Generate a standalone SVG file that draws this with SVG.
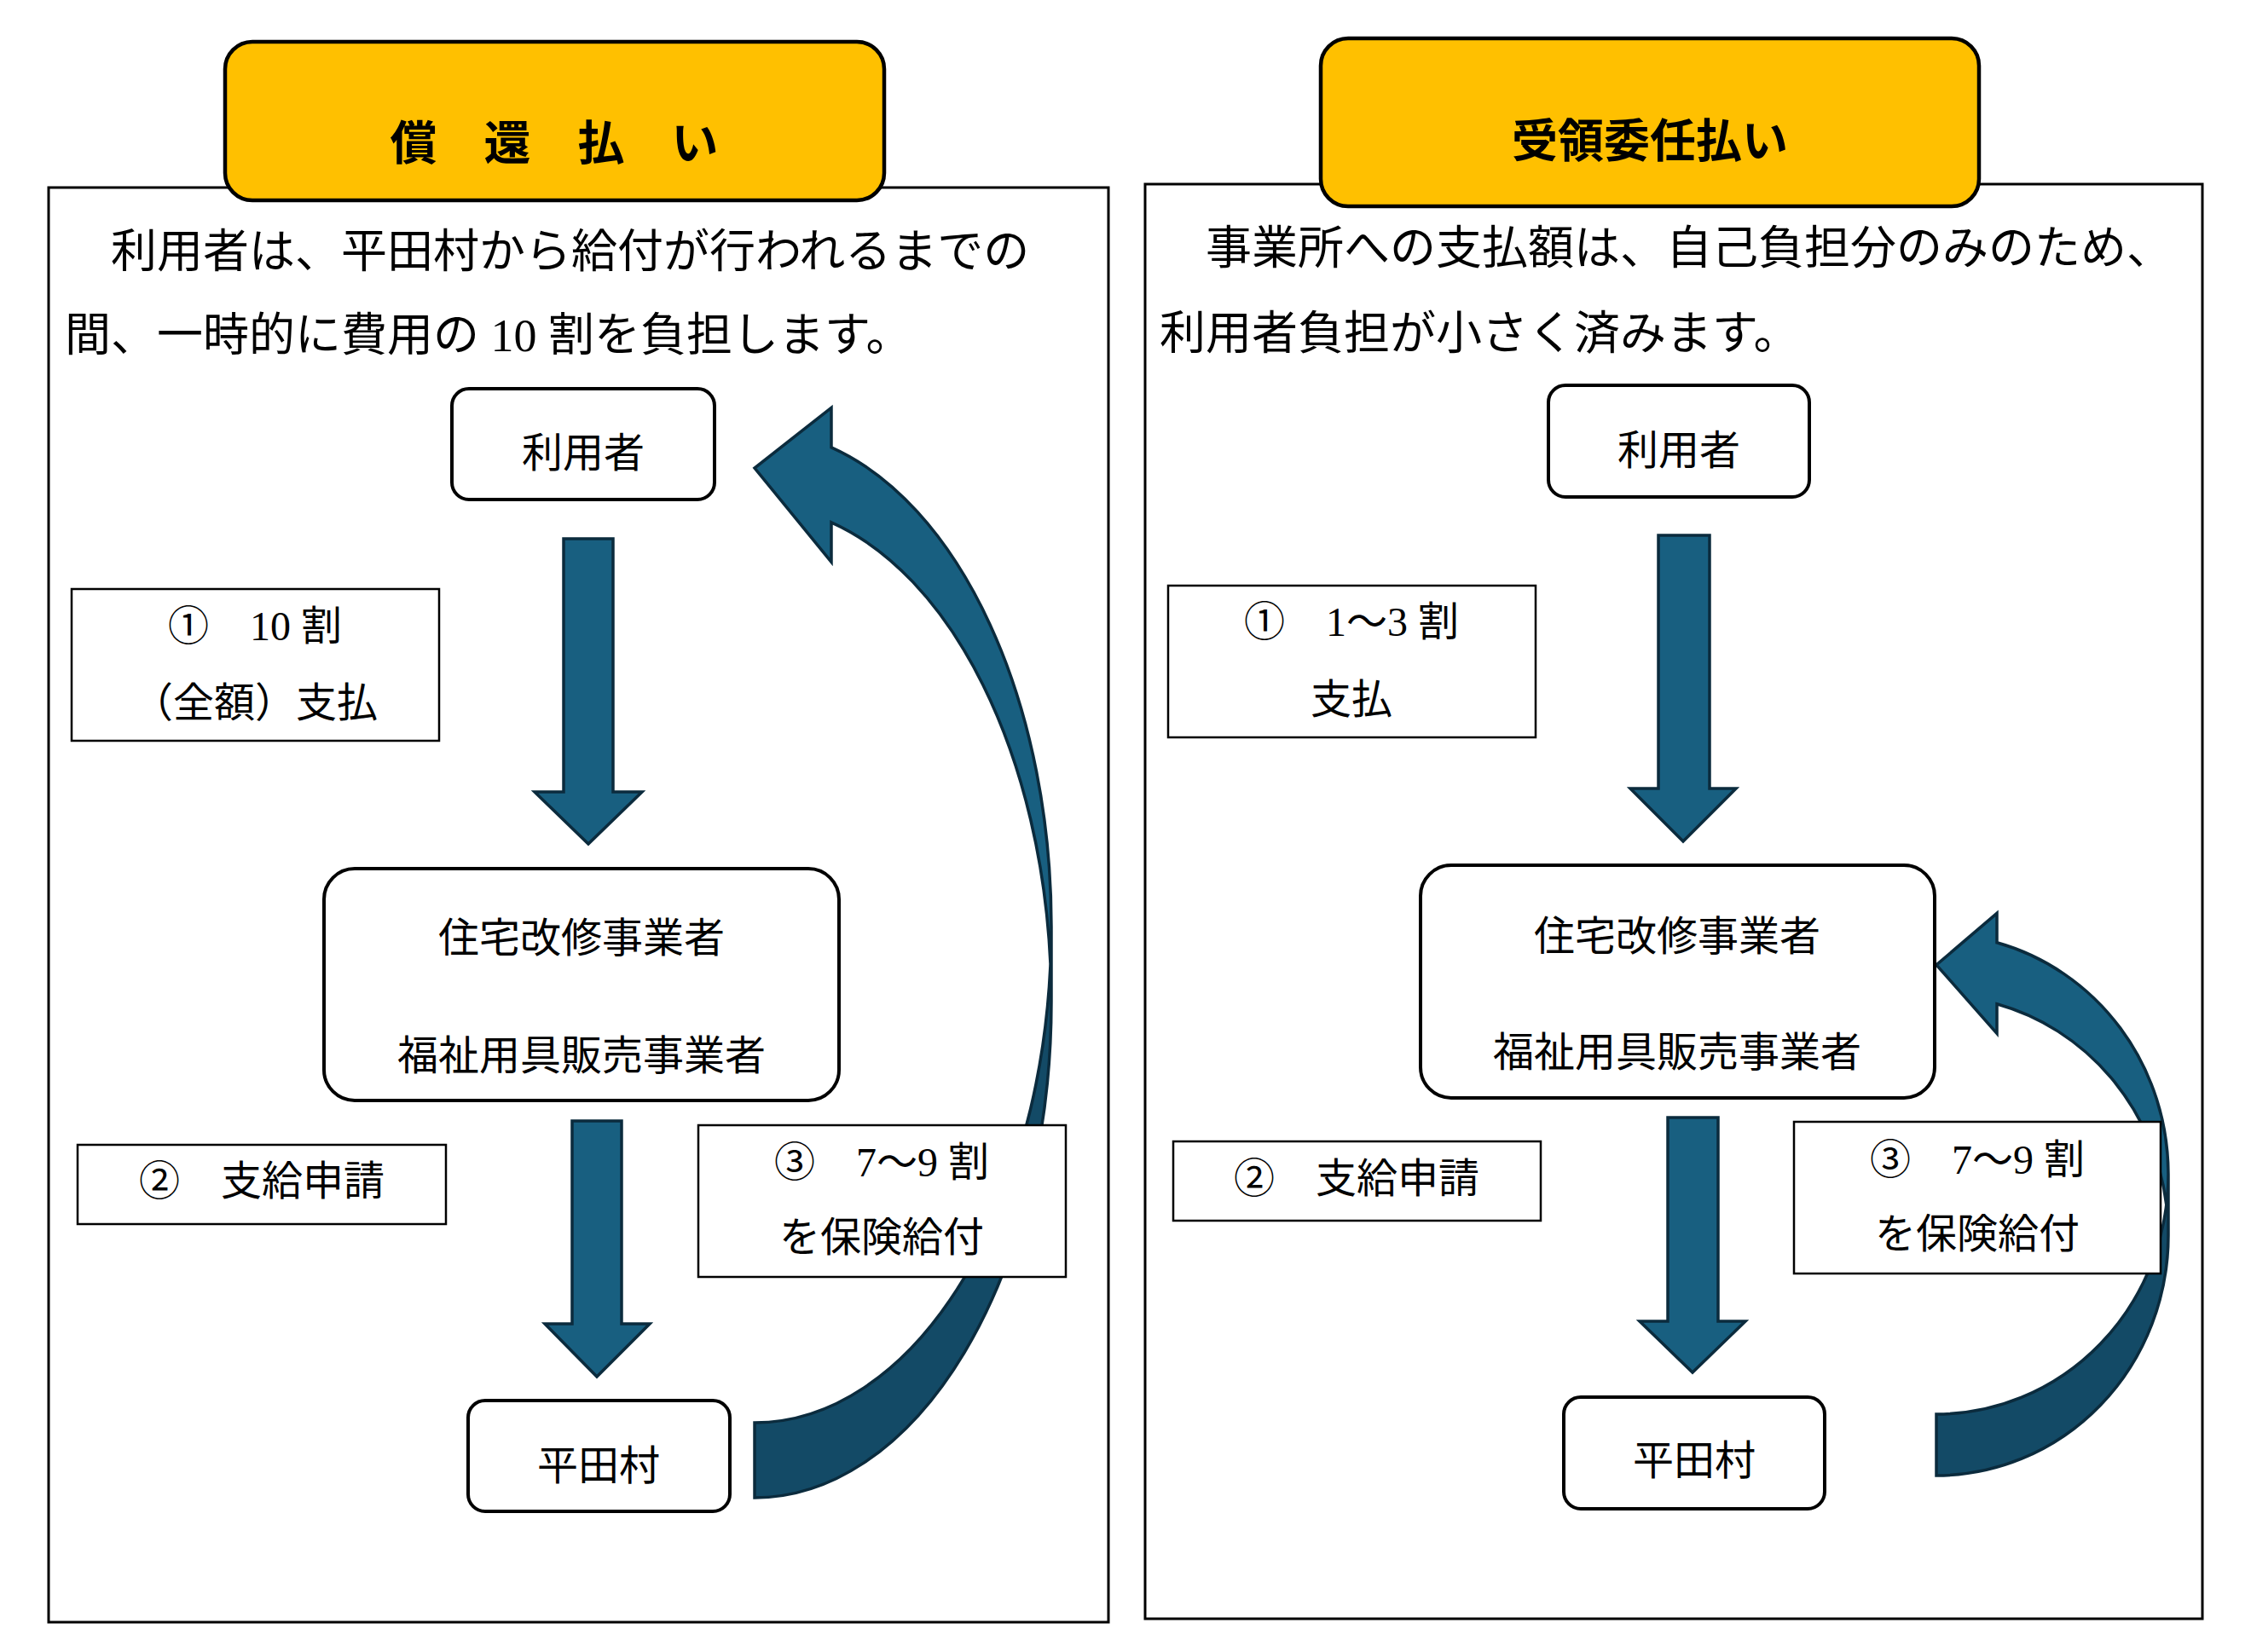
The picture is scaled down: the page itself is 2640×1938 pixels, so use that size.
<svg xmlns="http://www.w3.org/2000/svg" width="2640" height="1938" viewBox="0 0 2640 1938">
<style>
.panel{fill:#fff;stroke:#000;stroke-width:3}
.banner{fill:#FFC000;stroke:#000;stroke-width:4.5}
.node{fill:#fff;stroke:#000;stroke-width:4}
.label{fill:#fff;stroke:#000;stroke-width:2.5}
.arrow{fill:#185F80;stroke:#0B2B3D;stroke-width:3.5;stroke-linejoin:miter}
.back{fill:#134A66;stroke:none}
.outline{fill:none;stroke:#0B2B3D;stroke-width:3.5;stroke-linejoin:miter}
.t{font-family:'Liberation Serif','Noto Sans CJK JP',serif;fill:#000}
.desc{font-size:54px}
.n{font-size:48px;text-anchor:middle}
.title{font-family:'Noto Sans CJK JP',sans-serif;font-weight:bold;text-anchor:middle;fill:#000}
</style>
<rect width="2640" height="1938" fill="#fff"/>

<!-- Left panel -->
<g id="panel-left">
  <rect class="panel" x="57" y="220" width="1243" height="1683"/>
  <g id="banner-left">
    <rect class="banner" x="264" y="49" width="773" height="186" rx="32" ry="32"/>
    <text class="title" x="650" y="187" font-size="55">償　還　払　い</text>
  </g>
  <text class="t desc" x="76" y="314">　利用者は、平田村から給付が行われるまでの</text>
  <text class="t desc" x="76" y="412">間、一時的に費用の 10 割を負担します。</text>
</g>

<!-- Right panel -->
<g id="panel-right">
  <rect class="panel" x="1343" y="216" width="1240" height="1683"/>
  <g id="banner-right">
    <rect class="banner" x="1549" y="45" width="772" height="197" rx="32" ry="32"/>
    <text class="title" x="1935" y="185" font-size="54">受領委任払い</text>
  </g>
  <text class="t desc" x="1360" y="310">　事業所への支払額は、自己負担分のみのため、</text>
  <text class="t desc" x="1360" y="410">利用者負担が小さく済みます。</text>
</g>

<!-- Connectors -->
<g id="connectors">
  <!-- left: 利用者 -> 事業者 -->
  <path class="arrow" d="M661 632 H719 V929 H753 L690 990 L627 929 H661 Z"/>
  <!-- left: 事業者 -> 平田村 -->
  <path class="arrow" d="M671 1315 H729 V1553 H762 L700 1615 L639 1553 H671 Z"/>
  <!-- left: 平田村 -> 利用者 (curved) -->
  <g id="curved-left">
    <path class="back" d="M885 1757 A348 582 0 0 0 1233 1175 L1233 1087 A348 582 0 0 1 885 1669 Z"/>
    <path fill="#185F80" d="M885 549 L975 478.3 L975 524.8 A348 582 0 0 1 1232 1131 A348 582 0 0 0 975 612.8 L975 659.3 Z"/>
    <path class="outline" d="M1233 1087 A348 582 0 0 1 885 1669 L885 1757 A348 582 0 0 0 1233 1175 L1233 1087 A348 582 0 0 0 975 524.8 L975 478.3 L885 549 L975 659.3 L975 612.8 A348 582 0 0 1 1232 1131"/>
  </g>
  <!-- right: 利用者 -> 事業者 -->
  <path class="arrow" d="M1945 628 H2005 V925 H2036 L1974 987 L1912 925 H1945 Z"/>
  <!-- right: 事業者 -> 平田村 -->
  <path class="arrow" d="M1956 1311 H2015 V1550 H2047 L1985 1610 L1923 1550 H1956 Z"/>
  <!-- right: 平田村 -> 事業者 (curved) -->
  <g id="curved-right">
    <path class="back" d="M2271 1731 A272 281.5 0 0 0 2543 1449.5 L2543 1377.5 A272 281.5 0 0 1 2271 1659 Z"/>
    <path fill="#185F80" d="M2271 1132 L2342 1071.3 L2342 1105.8 A272 281.5 0 0 1 2540.8 1413.5 A272 281.5 0 0 0 2342 1177.8 L2342 1212.3 Z"/>
    <path class="outline" d="M2543 1377.5 A272 281.5 0 0 1 2271 1659 L2271 1731 A272 281.5 0 0 0 2543 1449.5 L2543 1377.5 A272 281.5 0 0 0 2342 1105.8 L2342 1071.3 L2271 1132 L2342 1212.3 L2342 1177.8 A272 281.5 0 0 1 2540.8 1413.5"/>
  </g>
</g>

<!-- Left nodes -->
<g id="user-left">
  <rect class="node" x="530" y="456" width="308" height="130" rx="20" ry="20"/>
  <text class="t n" x="684" y="548">利用者</text>
</g>
<g id="step1-left">
  <rect class="label" x="84" y="691" width="431" height="178"/>
  <text class="t n" x="299" y="751">①　10 割</text>
  <text class="t n" x="299" y="841">（全額）支払</text>
</g>
<g id="provider-left">
  <rect class="node" x="380" y="1019" width="604" height="272" rx="36" ry="36"/>
  <text class="t n" x="682" y="1117">住宅改修事業者</text>
  <text class="t n" x="682" y="1255">福祉用具販売事業者</text>
</g>
<g id="step2-left">
  <rect class="label" x="91" y="1343" width="432" height="93"/>
  <text class="t n" x="307" y="1402">②　支給申請</text>
</g>
<g id="step3-left">
  <rect class="label" x="819" y="1320" width="431" height="178"/>
  <text class="t n" x="1034" y="1380">③　7～9 割</text>
  <text class="t n" x="1034" y="1468">を保険給付</text>
</g>
<g id="village-left">
  <rect class="node" x="549" y="1643" width="307" height="130" rx="20" ry="20"/>
  <text class="t n" x="702" y="1736">平田村</text>
</g>

<!-- Right nodes -->
<g id="user-right">
  <rect class="node" x="1816" y="452" width="306" height="131" rx="20" ry="20"/>
  <text class="t n" x="1969" y="545">利用者</text>
</g>
<g id="step1-right">
  <rect class="label" x="1370" y="687" width="431" height="178"/>
  <text class="t n" x="1585" y="746">①　1～3 割</text>
  <text class="t n" x="1585" y="837">支払</text>
</g>
<g id="provider-right">
  <rect class="node" x="1666" y="1015" width="603" height="273" rx="36" ry="36"/>
  <text class="t n" x="1967" y="1115">住宅改修事業者</text>
  <text class="t n" x="1967" y="1251">福祉用具販売事業者</text>
</g>
<g id="step2-right">
  <rect class="label" x="1376" y="1339" width="431" height="93"/>
  <text class="t n" x="1591" y="1399">②　支給申請</text>
</g>
<g id="step3-right">
  <rect class="label" x="2104" y="1316" width="430" height="178"/>
  <text class="t n" x="2319" y="1377">③　7～9 割</text>
  <text class="t n" x="2319" y="1464">を保険給付</text>
</g>
<g id="village-right">
  <rect class="node" x="1834" y="1639" width="306" height="131" rx="20" ry="20"/>
  <text class="t n" x="1987" y="1730">平田村</text>
</g>
</svg>
